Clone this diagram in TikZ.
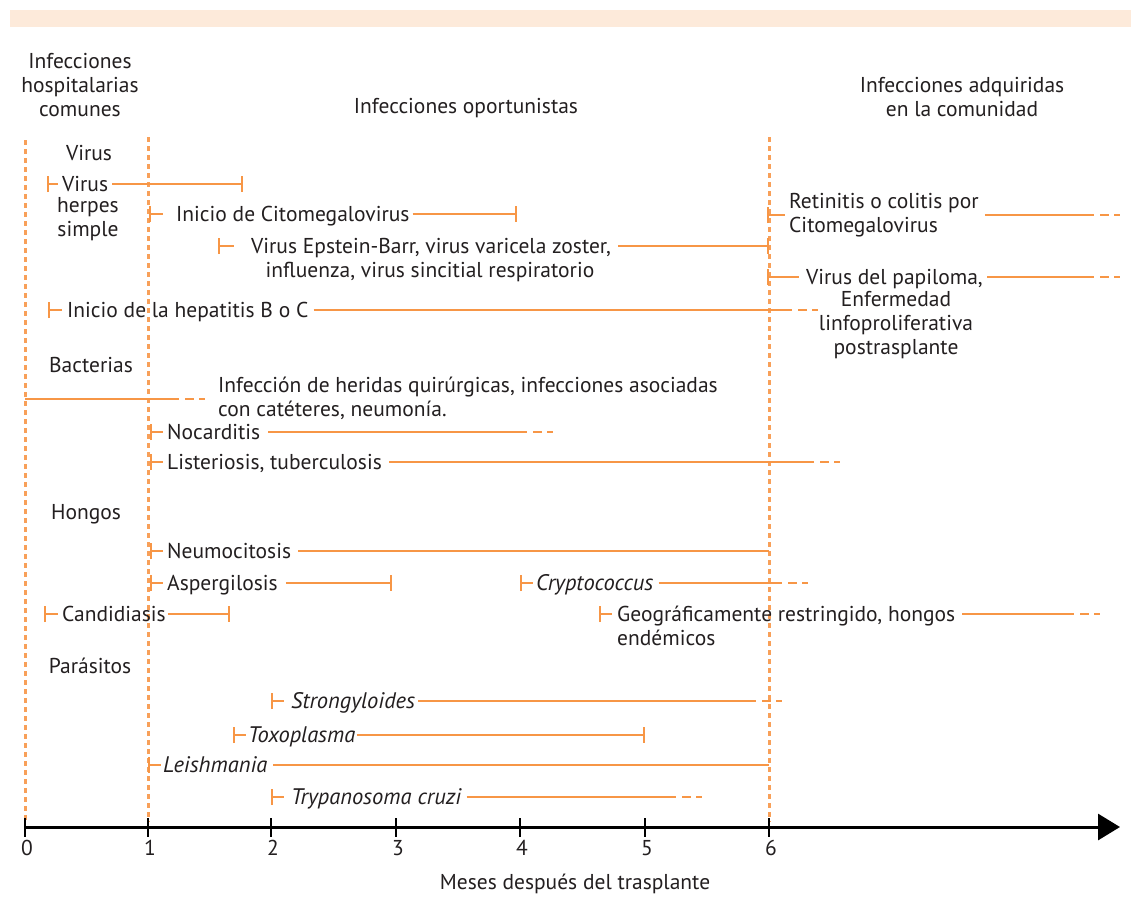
\documentclass[tikz,border=0pt]{standalone}
\usepackage{fontspec}
\setmainfont{PT Sans}
\usetikzlibrary{arrows.meta}
\definecolor{org}{HTML}{F79646}
\definecolor{band}{HTML}{FDEADA}
\definecolor{ink}{HTML}{231F20}
\tikzset{
  txt/.style={inner sep=0pt, text=ink, font=\fontsize{21.5}{24}\selectfont},
  lbl/.style={txt, anchor=west, text height=15pt, text depth=0pt},
  ilbl/.style={lbl, font=\fontsize{22.5}{24}\selectfont\itshape},
  tl/.style={draw=org, line width=2pt},
  sb/.style={tl, {Bar[width=16pt]}-},
  eb/.style={tl, -{Bar[width=16pt]}},
  fade/.style={tl, dash pattern=on 0pt off 6pt on 9pt off 5pt on 6pt off 200pt},
  guide/.style={draw=org!90, line width=3pt, dash pattern=on 5pt off 4pt},
}
\begin{document}
\begin{tikzpicture}[x=1pt,y=-1pt]
\useasboundingbox[fill=white] (0,0) rectangle (1131,897);
\fill[band] (10,10) rectangle (1131,27);

% guides
\coordinate (g0a) at (25,140); \coordinate (g0b) at (25,822);
\coordinate (g1a) at (148,137); \coordinate (g1b) at (148,822);
\coordinate (g6a) at (769,137); \coordinate (g6b) at (769,822);
\draw[guide] (g0a) -- (g0b);
\draw[guide] (g1a) -- (g1b);
\draw[guide] (g6a) -- (g6b);

% headers
\node[txt, align=center] (h1) at (80,85) {Infecciones\\hospitalarias\\comunes};
\node[txt] (h2) at (466,108) {Infecciones oportunistas};
\node[txt, align=center] (h3) at (962,97) {Infecciones adquiridas\\en la comunidad};

% categories
\node[txt] (cV) at (89,153) {Virus};
\node[txt] (cB) at (91,365) {Bacterias};
\node[txt] (cH) at (86,514) {Hongos};
\node[txt] (cP) at (90,666) {Parásitos};

% r1 herpes
\coordinate (s1) at (47,184); \coordinate (e1) at (243,184);
\node[lbl] (t1) at (62,184) {Virus};
\node[txt, align=center, anchor=north] (t1b) at (88,197) {herpes\\simple};
\draw[sb] (s1) -- ([xshift=-4pt]t1.west);
\draw[eb] ([xshift=4pt]t1.east) -- (e1);

% r2 CMV
\coordinate (s2) at (149,214); \coordinate (e2) at (517,214);
\node[lbl] (t2) at (176,214) {Inicio de Citomegalovirus};
\draw[sb] (s2) -- ([xshift=-13pt]t2.west);
\draw[eb] ([xshift=3pt]t2.east) -- (e2);

% r3 EBV
\coordinate (s3) at (218,246); \coordinate (e3) at (769,246);
\node[lbl, anchor=center] (t3) at (431,246) {Virus Epstein-Barr, virus varicela zoster,};
\node[lbl, anchor=center] (t3b) at (430,270) {influenza, virus sincitial respiratorio};
\draw[sb] (s3) -- ([xshift=-17pt]t3.west);
\draw[eb] ([xshift=7pt]t3.east) -- (e3);

% r4 retinitis
\coordinate (s4) at (767,215); \coordinate (a4) at (1094,215); \coordinate (e4) at (1120,215);
\node[txt, align=left, anchor=west] (t4) at (789,215) {Retinitis o colitis por\\Citomegalovirus};
\draw[sb] (s4) -- ([xshift=-4pt]t4.west);
\draw[tl] ([xshift=6pt]t4.east) -- (a4);
\draw[fade] (a4) -- (e4);

% r5 papiloma
\coordinate (s5) at (767,277); \coordinate (a5) at (1094,277); \coordinate (e5) at (1120,277);
\node[lbl] (t5) at (806,277) {Virus del papiloma,};
\node[txt, align=center, anchor=north] (t5b) at (896,291) {Enfermedad\\linfoproliferativa\\postrasplante};
\draw[sb] (s5) -- ([xshift=-7pt]t5.west);
\draw[tl] ([xshift=4pt]t5.east) -- (a5);
\draw[fade] (a5) -- (e5);

% r6 hepatitis
\coordinate (s6) at (48,310); \coordinate (a6) at (792,310); \coordinate (e6) at (818,310);
\node[lbl] (t6) at (67,310) {Inicio de la hepatitis B o C};
\draw[sb] (s6) -- ([xshift=-5pt]t6.west);
\draw[tl] ([xshift=5pt]t6.east) -- (a6);
\draw[fade] (a6) -- (e6);

% r7 heridas
\coordinate (s7) at (25,399); \coordinate (a7) at (179,399); \coordinate (e7) at (205,399);
\node[txt, align=left, anchor=west] (t7) at (218,398) {Infección de heridas quirúrgicas, infecciones asociadas\\con catéteres, neumonía.};
\draw[tl] (s7) -- (a7);
\draw[fade] (a7) -- (e7);

% r8 nocarditis
\coordinate (s8) at (150,432); \coordinate (a8) at (527,432); \coordinate (e8) at (553,432);
\node[lbl] (t8) at (167,432) {Nocarditis};
\draw[sb] (s8) -- ([xshift=-4pt]t8.west);
\draw[tl] ([xshift=8pt]t8.east) -- (a8);
\draw[fade] (a8) -- (e8);

% r9 listeriosis
\coordinate (s9) at (150,462); \coordinate (a9) at (814,462); \coordinate (e9) at (840,462);
\node[lbl] (t9) at (167,462) {Listeriosis, tuberculosis};
\draw[sb] (s9) -- ([xshift=-4pt]t9.west);
\draw[tl] ([xshift=7pt]t9.east) -- (a9);
\draw[fade] (a9) -- (e9);

% r10 neumocitosis
\coordinate (s10) at (150,551); \coordinate (e10) at (769,551);
\node[lbl] (t10) at (167,551) {Neumocitosis};
\draw[sb] (s10) -- ([xshift=-4pt]t10.west);
\draw[tl] ([xshift=7pt]t10.east) -- (e10);

% r11 aspergilosis
\coordinate (s11) at (150,583); \coordinate (e11) at (392,583);
\node[lbl] (t11) at (167,583) {Aspergilosis};
\draw[sb] (s11) -- ([xshift=-4pt]t11.west);
\draw[eb] ([xshift=8pt]t11.east) -- (e11);

% r12 cryptococcus
\coordinate (s12) at (520,583); \coordinate (a12) at (782,583); \coordinate (e12) at (808,583);
\node[ilbl] (t12) at (536,583) {Cryptococcus};
\draw[sb] (s12) -- ([xshift=-3pt]t12.west);
\draw[tl] ([xshift=5pt]t12.east) -- (a12);
\draw[fade] (a12) -- (e12);

% r13 candidiasis
\coordinate (s13) at (44,614); \coordinate (e13) at (230,614);
\node[lbl] (t13) at (62,614) {Candidiasis};
\draw[sb] (s13) -- ([xshift=-4pt]t13.west);
\draw[eb] ([xshift=2pt]t13.east) -- (e13);

% r14 geograficamente
\coordinate (s14) at (599,614); \coordinate (a14) at (1074,614); \coordinate (e14) at (1100,614);
\node[lbl] (t14) at (617,614) {Geográficamente restringido, hongos};
\node[lbl] (t14b) at (617,638) {endémicos};
\draw[sb] (s14) -- ([xshift=-5pt]t14.west);
\draw[tl] ([xshift=7pt]t14.east) -- (a14);
\draw[fade] (a14) -- (e14);

% r15 strongyloides
\coordinate (s15) at (271,701); \coordinate (a15) at (756,701); \coordinate (e15) at (782,701);
\node[ilbl] (t15) at (291,701) {Strongyloides};
\draw[sb] (s15) -- ([xshift=-7pt]t15.west);
\draw[tl] ([xshift=3pt]t15.east) -- (a15);
\draw[fade] (a15) -- (e15);

% r16 toxoplasma
\coordinate (s16) at (233,735); \coordinate (e16) at (645,735);
\node[ilbl] (t16) at (248,735) {Toxoplasma};
\draw[sb] (s16) -- ([xshift=-2pt]t16.west);
\draw[eb] ([xshift=1pt]t16.east) -- (e16);

% r17 leishmania
\coordinate (s17) at (148,765); \coordinate (e17) at (769,765);
\node[ilbl] (t17) at (163,765) {Leishmania};
\draw[sb] (s17) -- ([xshift=-2pt]t17.west);
\draw[tl] ([xshift=6pt]t17.east) -- (e17);

% r18 trypanosoma
\coordinate (s18) at (271,797); \coordinate (a18) at (676,797); \coordinate (e18) at (702,797);
\node[ilbl] (t18) at (291,797) {Trypanosoma cruzi};
\draw[sb] (s18) -- ([xshift=-7pt]t18.west);
\draw[tl] ([xshift=5pt]t18.east) -- (a18);
\draw[fade] (a18) -- (e18);

% axis
\coordinate (ax0) at (24,827); \coordinate (ax1) at (1120,827);
\draw[line width=3pt, -{Triangle[length=22pt,width=26pt]}] (ax0) -- (ax1);
\foreach \x/\l in {25/0,148/1,271/2,396/3,520/4,645/5,769/6}{
  \draw[line width=2pt] (\x,818) -- (\x,837);
  \node[txt, anchor=north] at (\x+2,840) {\l};
}
\node[txt] (xt) at (575,884) {Meses después del trasplante};
\end{tikzpicture}
\end{document}
